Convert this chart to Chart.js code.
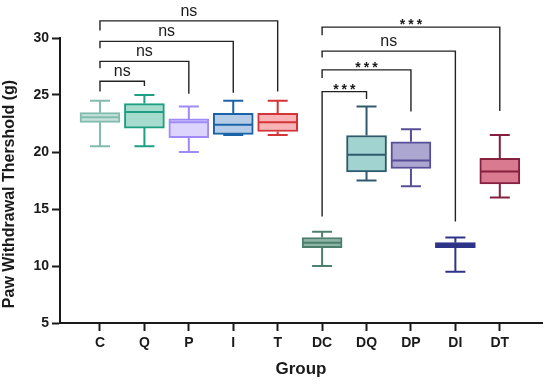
<!DOCTYPE html>
<html>
<head>
<meta charset="utf-8">
<script src="https://cdn.jsdelivr.net/npm/chart.js@4"></script>
<style>
  html, body { margin: 0; padding: 0; background: #fff; }
  #wrap { width: 550px; height: 387px; }
</style>
</head>
<body>
<div id="wrap"><canvas id="myChart" width="550" height="387"></canvas></div>
<script>
const groups = ["C", "Q", "P", "I", "T", "DC", "DQ", "DP", "DI", "DT"];
const whiskerMin = [20.5, 20.5, 20.0, 21.5, 21.5, 10.0, 17.5, 17.0, 9.5, 16.0];
const q1 = [22.6, 22.1, 21.25, 21.55, 21.8, 11.6, 18.25, 18.55, 11.6, 17.2];
const median = [23.05, 23.5, 22.6, 22.4, 22.6, 12.05, 19.75, 19.25, 11.85, 18.3];
const q3 = [23.45, 24.25, 22.9, 23.4, 23.4, 12.5, 21.45, 20.9, 12.05, 19.45];
const whiskerMax = [24.5, 25.0, 24.0, 24.5, 24.5, 13.0, 24.0, 22.0, 12.5, 21.5];

const yTicks = [5, 10, 15, 20, 25, 30];

// significance brackets
const compFrom = [0, 0, 0, 0, 5, 5, 5, 5];
const compTo = [1, 2, 3, 4, 6, 7, 8, 9];
const compLabel = ["ns", "ns", "ns", "ns", "***", "***", "ns", "***"];
const compLevel = [26.2, 27.95, 29.7, 31.5, 25.3, 27.2, 28.85, 30.95];
const compLeftEnd = [25.3, 27.35, 29.1, 30.65, 14.35, 26.5, 28.3, 30.25];
const compRightEnd = [25.8, 25.1, 25.2, 25.3, 24.65, 23.55, 13.9, 23.6];

const lineColors = ["#82bcae", "#1e9e82", "#a08af7", "#1b63a8", "#d23437",
  "#4d7f6e", "#2f5a6e", "#574f97", "#2e3588", "#85203f"];
const fillColors = ["#c4e2da", "#a6dccd", "#dcd4fc", "#b7cde7", "#f8b4b6",
  "#8fb5a7", "#a1d4d1", "#aba7d0", "#b6b9dd", "#d97a90"];

const ink = "#1a1a1a";
const fontFamily = "'Liberation Sans', Arial, sans-serif";

const boxPlugin = {
  id: "boxExtras",
  afterDatasetsDraw(chart) {
    const ctx = chart.ctx;
    const x = chart.scales.x;
    const y = chart.scales.y;
    ctx.save();
    ctx.lineWidth = 2;
    for (let i = 0; i < groups.length; i++) {
      const cx = x.getPixelForValue(i);
      ctx.strokeStyle = lineColors[i];
      ctx.beginPath();
      ctx.moveTo(cx, y.getPixelForValue(whiskerMax[i]));
      ctx.lineTo(cx, y.getPixelForValue(q3[i]));
      ctx.moveTo(cx, y.getPixelForValue(q1[i]));
      ctx.lineTo(cx, y.getPixelForValue(whiskerMin[i]));
      ctx.moveTo(cx - 10, y.getPixelForValue(whiskerMax[i]));
      ctx.lineTo(cx + 10, y.getPixelForValue(whiskerMax[i]));
      ctx.moveTo(cx - 10, y.getPixelForValue(whiskerMin[i]));
      ctx.lineTo(cx + 10, y.getPixelForValue(whiskerMin[i]));
      ctx.moveTo(cx - 19, y.getPixelForValue(median[i]));
      ctx.lineTo(cx + 19, y.getPixelForValue(median[i]));
      ctx.stroke();
    }

    // brackets
    ctx.strokeStyle = "#222";
    ctx.fillStyle = ink;
    ctx.lineWidth = 1.4;
    ctx.textAlign = "center";
    ctx.textBaseline = "alphabetic";
    for (let k = 0; k < compFrom.length; k++) {
      const x1 = x.getPixelForValue(compFrom[k]);
      const x2 = x.getPixelForValue(compTo[k]);
      const yb = y.getPixelForValue(compLevel[k]);
      ctx.beginPath();
      ctx.moveTo(x1, y.getPixelForValue(compLeftEnd[k]));
      ctx.lineTo(x1, yb);
      ctx.lineTo(x2, yb);
      ctx.lineTo(x2, y.getPixelForValue(compRightEnd[k]));
      ctx.stroke();
      const mid = (x1 + x2) / 2;
      if (compLabel[k] === "ns") {
        ctx.font = "16px " + fontFamily;
        ctx.letterSpacing = "0px";
        ctx.fillText(compLabel[k], mid, yb - 5);
      } else {
        ctx.font = "bold 14px " + fontFamily;
        ctx.letterSpacing = "3px";
        ctx.fillText(compLabel[k], mid + 1.5, yb + 2);
      }
    }
    ctx.restore();
  },
  afterDraw(chart) {
    // y axis title
    const ctx = chart.ctx;
    ctx.save();
    ctx.translate(10, 194);
    ctx.rotate(-Math.PI / 2);
    ctx.font = "bold 16px " + fontFamily;
    ctx.fillStyle = ink;
    ctx.textAlign = "center";
    ctx.textBaseline = "middle";
    ctx.fillText("Paw Withdrawal Thershold (g)", 0, 0);
    ctx.restore();
  }
};

const ctx = document.getElementById("myChart").getContext("2d");
const myChart = new Chart(ctx, {
  type: "bar",
  data: {
    datasets: [
      {
        data: groups.map((g, i) => ({ x: i, y: [q1[i], q3[i]] })),
        backgroundColor: fillColors,
        borderColor: lineColors,
        borderWidth: 2,
        borderSkipped: false,
        barThickness: 40,
      },
    ],
  },
  options: {
    responsive: false,
    animation: false,
    layout: { padding: { top: 38, right: 8, left: 0, bottom: 0 } },
    plugins: {
      legend: { display: false },
      tooltip: { enabled: false },
    },
    scales: {
      x: {
        type: "linear",
        offset: false,
        min: -0.9,
        max: 9.95,
        afterBuildTicks: (scale) => {
          scale.ticks = groups.map((g, i) => ({ value: i }));
        },
        afterFit: (scale) => {
          scale.height = 64;
        },
        ticks: {
          callback: (v) => groups[v],
          color: ink,
          font: { family: fontFamily, size: 14, weight: "bold" },
          padding: 4,
          maxRotation: 0,
          autoSkip: false,
        },
        grid: {
          offset: false,
          drawOnChartArea: false,
          drawTicks: true,
          tickLength: 8,
          tickWidth: 2,
          tickColor: ink,
        },
        border: { color: ink, width: 2 },
        title: {
          display: true,
          text: "Group",
          color: ink,
          font: { family: fontFamily, size: 17, weight: "bold" },
          padding: { top: 0, bottom: 7 },
        },
      },
      y: {
        min: 5,
        max: 30,
        afterBuildTicks: (scale) => {
          scale.ticks = yTicks.map((v) => ({ value: v }));
        },
        afterFit: (scale) => {
          scale.width = 60;
        },
        ticks: {
          color: ink,
          font: { family: fontFamily, size: 14, weight: "bold" },
          padding: 3,
        },
        grid: {
          drawOnChartArea: false,
          drawTicks: true,
          tickLength: 8,
          tickWidth: 2,
          tickColor: ink,
        },
        border: { color: ink, width: 2 },
      },
    },
  },
  plugins: [boxPlugin],
});
</script>
</body>
</html>
